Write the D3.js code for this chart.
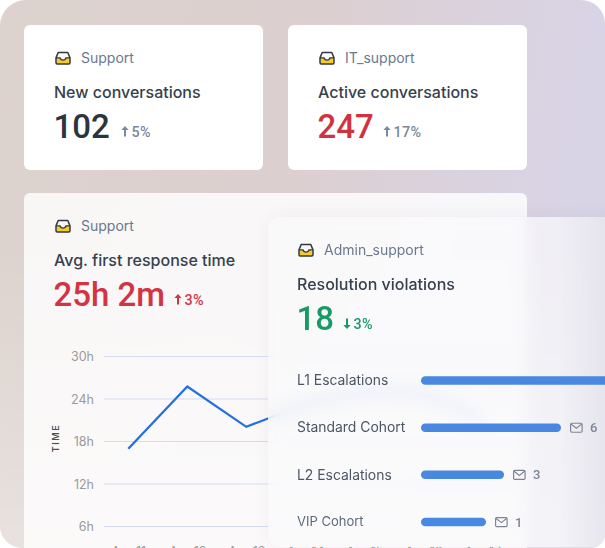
<!DOCTYPE html>
<html><head><meta charset="utf-8">
<script src="https://cdn.jsdelivr.net/npm/d3@7"></script>
<style>
html,body{margin:0;padding:0;background:#fff;width:605px;height:548px;overflow:hidden}
#root{position:absolute;left:0;top:0;width:605px;height:548px;overflow:hidden;
  border-radius:26px 24px 14px 22px;
  background:
    linear-gradient(180deg, rgba(255,255,255,0) 45%, rgba(255,255,255,0.35) 100%),
    linear-gradient(100deg, #ddd3cd 0%, #dccfd0 45%, #d8d3e5 85%, #d7d4e6 100%);}
.card{position:absolute;border-radius:6px;overflow:hidden}
.card svg{position:absolute;left:0;top:0}
#c1,#c2{background:#fff}
#c3{background:rgba(255,255,255,0.82)}
#c4{background:rgba(250,250,251,0.72);backdrop-filter:blur(8px);-webkit-backdrop-filter:blur(8px);border-radius:12px;
  box-shadow:0 0 18px rgba(80,70,110,0.06)}
#c4 .shade{position:absolute;left:0;top:0;width:100%;height:100%;
  background:linear-gradient(90deg, rgba(210,208,222,0) 78%, rgba(212,210,224,0.45) 92%, rgba(205,203,218,0.6) 100%)}
text{font-family:Inter, "Open Sans", sans-serif}
.num{font-family:Roboto, sans-serif;font-weight:500}
</style></head>
<body><div id="root"></div>
<script>
// ---------- data ----------
const kpiInboxes = ["Support", "IT_support"];
const kpiTitles = ["New conversations", "Active conversations"];
const kpiValues = ["102", "247"];
const kpiChanges = ["5%", "17%"];

const chartInbox = "Support";
const chartTitle = "Avg. first response time";
const chartValue = "25h 2m";
const chartChange = "3%";
const dates = ["Apr 11", "Apr 12", "Apr 13", "Apr 14", "Apr 15", "Apr 16", "Apr 17"];
const hours = [16.9, 25.7, 20.0, 23.2, 25.0, 24.8, 21.0];
const hourTicks = [6, 12, 18, 24, 30];
const axisTitle = "TIME";

const violInbox = "Admin_support";
const violTitle = "Resolution violations";
const violValue = "18";
const violChange = "3%";
const groups = ["L1 Escalations", "Standard Cohort", "L2 Escalations", "VIP Cohort"];
const counts = [9, 6, 3, 1];
const shownCounts = [false, true, true, true];

// ---------- helpers ----------
const root = d3.select("#root");
function card(id, x, y, w, h) {
  const d = root.append("div").attr("class", "card").attr("id", id)
    .style("left", x + "px").style("top", y + "px").style("width", w + "px").style("height", h + "px");
  return d;
}
function inboxIcon(g, x, y) {
  const ic = g.append("g").attr("transform", `translate(${x},${y})`);
  ic.append("path").attr("d", "M1.2,6.6 H5.2 Q5.8,8.8 8,8.8 Q10.2,8.8 10.8,6.6 H14.8 V11.2 Q14.8,12.2 13.8,12.2 H2.2 Q1.2,12.2 1.2,11.2 Z")
    .attr("fill", "#f4cd2a");
  ic.append("path").attr("d", "M1,6.4 L3.2,1 H12.8 L15,6.4 V11.2 Q15,12.4 13.8,12.4 H2.2 Q1,12.4 1,11.2 Z")
    .attr("fill", "none").attr("stroke", "#2e3846").attr("stroke-width", 1.5).attr("stroke-linejoin", "round");
  ic.append("path").attr("d", "M1,6.4 H5 Q5.6,8.6 8,8.6 Q10.4,8.6 11,6.4 H15")
    .attr("fill", "none").attr("stroke", "#2e3846").attr("stroke-width", 1.4);
}
function arrow(g, x, y, up, color) {
  const p = up ? "M0,-5.5 L3.6,-1.6 H1 V5 H-1 V-1.6 H-3.6 Z" : "M0,5.5 L3.6,1.6 H1 V-5 H-1 V1.6 H-3.6 Z";
  g.append("path").attr("d", p).attr("transform", `translate(${x},${y})`).attr("fill", color);
}
function envelope(g, x, y) {
  const e = g.append("g").attr("transform", `translate(${x},${y})`).attr("fill", "none")
    .attr("stroke", "#7c8596").attr("stroke-width", 1.2);
  e.append("rect").attr("x", 0.6).attr("y", 0.6).attr("width", 11.5).attr("height", 9).attr("rx", 1.2);
  e.append("path").attr("d", "M0.8,1.2 L6.35,5.6 L11.9,1.2");
}
function header(svg, x, inbox, title, value, change, valColor, chgColor, up, arrowX, valSize) {
  inboxIcon(svg, x, 26.5);
  svg.append("text").attr("x", x + 26).attr("y", 38.3).attr("font-size", 14).attr("fill", "#6a7890").text(inbox);
  svg.append("text").attr("x", x - 1).attr("y", 73.3).attr("font-size", 16).attr("font-weight", 500)
    .attr("fill", "#37414e").text(title);
  svg.append("text").attr("class", "num").attr("x", x - 1.5).attr("y", 112.6).attr("font-size", valSize)
    .attr("fill", valColor).text(value);
  arrow(svg, arrowX, 106.5, up, chgColor);
  svg.append("text").attr("class", "num").attr("x", arrowX + 6.5).attr("y", 111.8).attr("font-size", 14.3)
    .attr("font-weight", 400).attr("fill", chgColor).attr("letter-spacing", 0.4).text(change);
}

// ---------- KPI cards ----------
const kpiPos = [[24, 25], [288, 25]];
const kpiColors = ["#2b3440", "#d1323f"];
const kpiArrowX = [101, 99];
kpiValues.forEach((v, i) => {
  const c = card("c" + (i + 1), kpiPos[i][0], kpiPos[i][1], 239, 145);
  const svg = c.append("svg").attr("width", 239).attr("height", 145);
  header(svg, 31, kpiInboxes[i], kpiTitles[i], v, kpiChanges[i], kpiColors[i], "#7a87a0", true, kpiArrowX[i], 33);
});

// ---------- line chart card ----------
const W3 = 503, H3 = 380;
const c3 = card("c3", 24, 193, W3, H3);
const s3 = c3.append("svg").attr("width", W3).attr("height", H3);
header(s3, 31, chartInbox, chartTitle, chartValue, chartChange, "#d23444", "#d23444", true, 154, 33);

const y = d3.scaleLinear().domain([0, 30]).range([375.5, 163]);
const x = d3.scalePoint().domain(dates).range([104.3, 458.3]);

const yAxis = d3.axisLeft(y).tickValues(hourTicks).tickFormat(d => d + "h").tickSize(-(W3 - 80)).tickPadding(10);
const ga = s3.append("g").attr("transform", "translate(80,0)").call(yAxis);
ga.select(".domain").remove();
ga.selectAll(".tick line").attr("stroke", "#d5ddf4").attr("stroke-width", 1);
ga.selectAll(".tick text").attr("font-family", "Roboto, sans-serif").attr("font-size", 12.5)
  .attr("fill", "#9a9a9a").attr("dy", "0.36em");

const xAxis = d3.axisBottom(x).tickSize(0).tickPadding(0);
const gx = s3.append("g").attr("transform", "translate(0,353.5)").call(xAxis);
gx.select(".domain").remove();
gx.selectAll(".tick text").attr("font-family", "Roboto, sans-serif").attr("font-size", 12.5)
  .attr("fill", "#9a9a9a").attr("dy", "0.72em");

s3.append("text").attr("transform", "translate(34.5,245) rotate(-90)").attr("text-anchor", "middle")
  .attr("font-size", 9).attr("font-weight", 600).attr("letter-spacing", 1.6).attr("fill", "#4a4f57").text(axisTitle);

const line = d3.line().x((d, i) => x(dates[i])).y(d => y(d));
s3.append("path").datum(hours).attr("d", line).attr("fill", "none").attr("stroke", "#2470e0")
  .attr("stroke-width", 2.3).attr("stroke-linejoin", "miter");

// ---------- frosted violations card ----------
const W4 = 372, H4 = 330;
const c4 = card("c4", 268, 217, W4, H4);
c4.append("div").attr("class", "shade");
const s4 = c4.append("svg").attr("width", W4).attr("height", H4);
header(s4, 30, violInbox, violTitle, violValue, violChange, "#179a63", "#179a63", false, 79, 33);

const by = d3.scalePoint().domain(groups).range([163.5, 305]);
const bw = d3.scaleLinear().domain([1, 3, 6]).range([65, 83, 140]);
const bx0 = 153, bh = 8.5;
const rows = s4.selectAll(".row").data(groups).enter().append("g").attr("class", "row")
  .attr("transform", g => `translate(0,${by(g)})`);
rows.append("text").attr("x", 29).attr("y", (g, i) => i === 3 ? 3.6 : 4.8)
  .attr("font-size", (g, i) => i === 3 ? 13 : 13.9).attr("fill", (g, i) => i === 3 ? "#5e6a7c" : "#4b5666").text(g => g);
rows.append("rect").attr("x", bx0).attr("y", -bh / 2).attr("height", bh).attr("rx", bh / 2)
  .attr("width", (g, i) => bw(counts[i])).attr("fill", "#4888e0");
rows.each(function (g, i) {
  if (!shownCounts[i]) return;
  const r = d3.select(this);
  const end = bx0 + bw(counts[i]);
  envelope(r, end + 9, -5);
  r.append("text").attr("class", "num").attr("x", end + 29).attr("y", 4.6).attr("font-size", 13)
    .attr("font-weight", 400).attr("fill", "#7c8596").text(counts[i]);
});
</script></body></html>
